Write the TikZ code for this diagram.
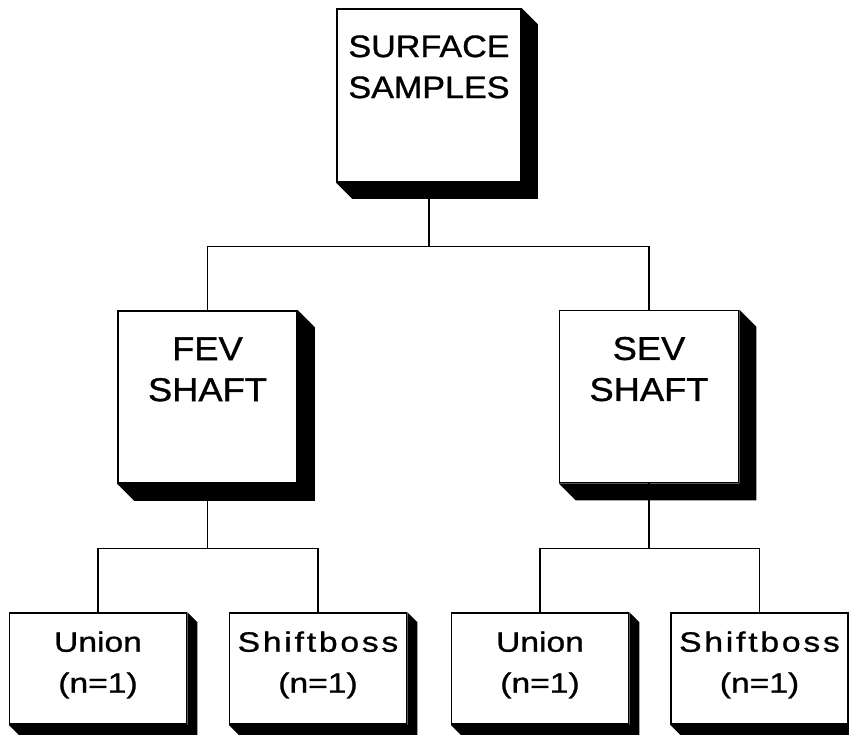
\documentclass[tikz,border=0pt]{standalone}
\usepackage{fontspec}
\setmainfont{Liberation Sans}[FakeStretch=1.1,FakeBold=1]
\usetikzlibrary{positioning}

\begin{document}
\begin{tikzpicture}[x=1pt,y=-1pt,
  box/.style={draw,line width=1.6pt,fill=white,inner sep=0pt},
  bigbox/.style={box,minimum width=179pt,minimum height=172pt},
  smallbox/.style={box,minimum width=177pt,minimum height=111pt},
  txt/.style={inner sep=0pt,anchor=north,align=center},
  toptxt/.style={txt,font=\fontsize{31}{41}\selectfont},
  midtxt/.style={txt,font=\fontsize{33}{41}\selectfont},
  lowtxt/.style={txt,font=\fontsize{28}{41}\selectfont\addfontfeatures{FakeStretch=1.2}},
  link/.style={line width=1.2pt}]
\useasboundingbox (0,0) rectangle (849,734);
\node[bigbox,minimum width=184pt,minimum height=173pt] (top) at (429,95.5) {};
\node[bigbox] (fev) at (207.5,397) {};
\node[bigbox] (sev) at (649,396.5) {};
\node[smallbox] (fu) at (98,668.5) {};
\node[smallbox] (fs) at (318,668.5) {};
\node[smallbox] (su) at (540,668.5) {};
\node[smallbox] (sb) at (759.5,668.5) {};
\foreach \n/\d in {top/16,fev/17,sev/17,fu/10,fs/10,su/10,sb/10}
  \fill (\n.north east) -- ++(\d,\d) -- ([shift={(\d,\d)}]\n.south east)
    -- ([shift={(\d,\d)}]\n.south west) -- (\n.south west) -- (\n.south east) -- cycle;
\node[toptxt] (top-t) at ([yshift=-27pt]top.north) {SURFACE\\SAMPLES};
\node[midtxt] (fev-t) at ([yshift=-27pt]fev.north) {FEV\\SHAFT};
\node[midtxt] (sev-t) at ([yshift=-27pt]sev.north) {SEV\\SHAFT};
\node[lowtxt] (fu-t) at ([yshift=-19pt]fu.north) {Union\\(n=1)};
\node[lowtxt] (fs-t) at ([yshift=-19pt]fs.north) {{\addfontfeatures{LetterSpace=10}Shiftboss}\\(n=1)};
\node[lowtxt] (su-t) at ([yshift=-19pt]su.north) {Union\\(n=1)};
\node[lowtxt] (sb-t) at ([yshift=-19pt]sb.north) {{\addfontfeatures{LetterSpace=10}Shiftboss}\\(n=1)};
\draw[link] (top.south) -- ++(0,64) -| (fev.north);
\draw[link] (top.south) ++(0,64) -| (sev.north);
\draw[link] (fev.south) -- ++(0,65) -| (fu.north);
\draw[link] (fev.south) ++(0,65) -| (fs.north);
\draw[link] (sev.south) -- ++(0,65) -| (su.north);
\draw[link] (sev.south) ++(0,65) -| (sb.north);
\end{tikzpicture}
\end{document}
